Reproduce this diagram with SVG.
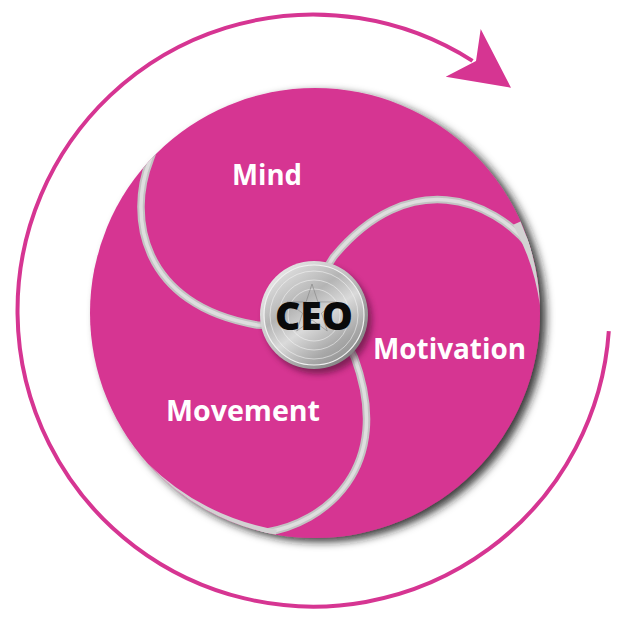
<svg xmlns="http://www.w3.org/2000/svg" width="628" height="628" viewBox="0 0 628 628">
<defs>
<style>
.lbl{font-family:"Open Sans","Liberation Sans",sans-serif;font-weight:700;font-size:28px;fill:#ffffff}
.ceo{font-family:"Open Sans","Liberation Sans",sans-serif;font-weight:800;font-size:39px;fill:#0a0a0a}
.bandBase{fill:none;stroke:#c3c3c3;stroke-width:7.5}
.bandHi{fill:none;stroke:#dedede;stroke-width:3.5}
.rim{fill:#d2d2d2}
.ring{fill:none;stroke:#f6f6f6;stroke-opacity:0.55;stroke-width:1}
</style>
<filter id="discShadow" x="-10%" y="-10%" width="125%" height="125%">
<feGaussianBlur in="SourceAlpha" stdDeviation="4"/>
<feOffset dx="6" dy="4" result="b"/>
<feFlood flood-color="#1a1a1a" flood-opacity="0.85"/>
<feComposite in2="b" operator="in"/>
<feMerge><feMergeNode/><feMergeNode in="SourceGraphic"/></feMerge>
</filter>
<filter id="coinShadow" x="-30%" y="-30%" width="160%" height="160%">
<feGaussianBlur stdDeviation="3"/>
</filter>
<clipPath id="discClip"><circle cx="315" cy="313" r="225"/></clipPath>
<path id="swirl" d="M154,149 L150,160 C128,215 140,305 257,325 L285,326"/>
<linearGradient id="rimGrad" x1="0" y1="0" x2="1" y2="1">
<stop offset="0" stop-color="#f4f4f4"/>
<stop offset="0.5" stop-color="#bdbdbd"/>
<stop offset="1" stop-color="#6f6f6f"/>
</linearGradient>
<linearGradient id="faceGrad" x1="0.15" y1="0" x2="0.85" y2="1">
<stop offset="0" stop-color="#e6e6e6"/>
<stop offset="0.35" stop-color="#b4b4b4"/>
<stop offset="0.55" stop-color="#dadada"/>
<stop offset="0.8" stop-color="#a8a8a8"/>
<stop offset="1" stop-color="#8e8e8e"/>
</linearGradient>
</defs>

<g id="connectors">
<path d="M608.8,331.1 A296 296 0 1 1 472.5,60.9" fill="none" stroke="#d63592" stroke-width="4"/>
<polygon points="480.7,29 511,87.7 445.7,76.7 476,61" fill="#d63592"/>
</g>

<g id="disc">
<circle cx="315" cy="313" r="225" fill="#d63592" filter="url(#discShadow)"/>
<g clip-path="url(#discClip)">
<use href="#swirl" class="bandBase"/>
<use href="#swirl" class="bandHi"/>
<g transform="rotate(120 315 313)">
<use href="#swirl" class="bandBase"/>
<use href="#swirl" class="bandHi"/>
</g>
<g transform="rotate(240 315 313)">
<use href="#swirl" class="bandBase"/>
<use href="#swirl" class="bandHi"/>
</g>
</g>
<path class="rim" d="M513.2,224.7 L520.5,221.5 A225 225 0 0 1 539.9,305.1 A235 235 0 0 0 513.2,224.7 Z"/>
<path class="rim" d="M276.8,529.7 L275.9,534.6 A225 225 0 0 1 147.8,463.5 A240 240 0 0 0 276.8,529.7 Z"/>
</g>

<g id="mind">
<text class="lbl" x="232" y="185" textLength="70" lengthAdjust="spacingAndGlyphs">Mind</text>
</g>
<g id="motivation">
<text class="lbl" x="373" y="359" textLength="153" lengthAdjust="spacingAndGlyphs">Motivation</text>
</g>
<g id="movement">
<text class="lbl" x="166" y="421" textLength="154" lengthAdjust="spacingAndGlyphs">Movement</text>
</g>

<g id="ceo">
<circle cx="318" cy="320" r="54" fill="#3a0a25" opacity="0.55" filter="url(#coinShadow)"/>
<circle cx="314" cy="315" r="54" fill="url(#rimGrad)"/>
<circle cx="314" cy="315" r="50" fill="url(#faceGrad)" stroke="#f2f2f2" stroke-width="1.2"/>
<circle class="ring" cx="314" cy="315" r="44"/>
<circle class="ring" cx="314" cy="315" r="35"/>
<circle class="ring" cx="314" cy="315" r="26"/>
<polygon points="312,284 317.9,301.9 336.7,302 321.5,313.1 327.3,331 312,320 296.7,331 302.5,313.1 287.3,302 306.1,301.9" fill="none" stroke="#7a7a7a" stroke-opacity="0.5" stroke-width="1"/>
<text class="ceo" x="314" y="330" text-anchor="middle" textLength="78" lengthAdjust="spacingAndGlyphs">CEO</text>
</g>
</svg>
